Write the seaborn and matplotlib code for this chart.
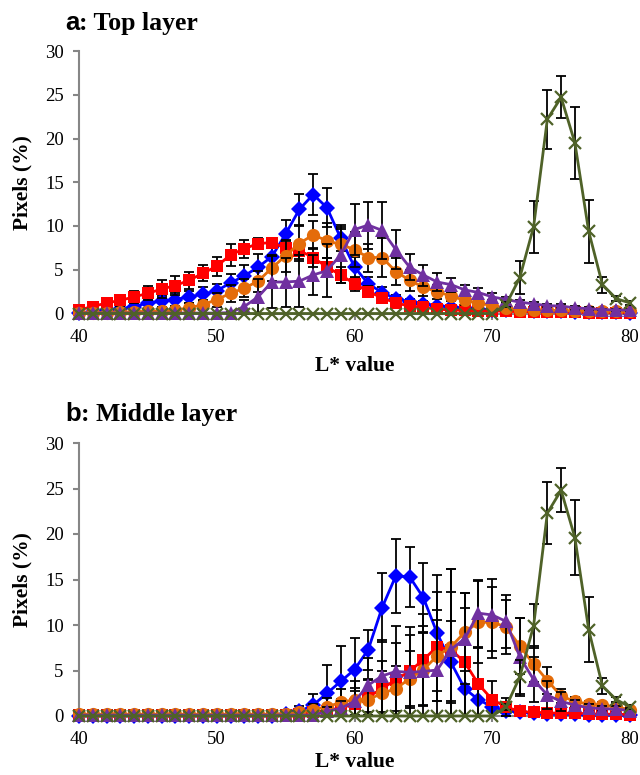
import numpy as np
import pandas as pd
import matplotlib
matplotlib.use("Agg")
import matplotlib.pyplot as plt
import seaborn as sns

# ---------------- data ----------------
L_values = list(range(40, 81))
x_ticks = [40, 50, 60, 70, 80]
y_ticks = [0, 5, 10, 15, 20, 25, 30]
panel_titles = [("a", ": Top layer"), ("b", ": Middle layer")]
x_label = "L* value"
y_label = "Pixels (%)"

# ---- top layer ----
top_blue = [0.1, 0.2, 0.4, 0.5, 0.8, 1.2, 1.4, 1.6, 1.9, 2.2, 2.6, 3.5, 4.3, 5.3, 6.5, 9.1, 11.9, 13.6, 12.1, 8.6,
            5.3, 3.4, 2.4, 1.7, 1.35, 1.1, 0.9, 0.75, 0.6, 0.5, 0.45, 0.4, 0.35, 0.3, 0.3, 0.25, 0.2, 0.2, 0.15, 0.15, 0.1]
top_blue_err = [0.1, 0.2, 0.3, 0.4, 0.5, 0.6, 0.6, 0.7, 0.7, 0.8, 0.8, 1.0, 1.2, 1.5, 1.5, 1.6, 1.8, 2.3, 2.2, 1.5,
                1.2, 0.8, 0.6, 0.4, 0.3, 0.3, 0.2, 0.2, 0.2, 0.15, 0.1, 0.1, 0.1, 0.1, 0.1, 0.1, 0.1, 0.1, 0.1, 0.1, 0.1]
top_red = [0.4, 0.8, 1.2, 1.5, 1.9, 2.3, 2.8, 3.2, 3.8, 4.6, 5.4, 6.7, 7.4, 8.0, 8.1, 7.5, 7.2, 6.4, 5.3, 4.4,
           3.4, 2.5, 1.8, 1.2, 0.85, 0.7, 0.5, 0.4, 0.35, 0.3, 0.3, 0.25, 0.2, 0.2, 0.2, 0.15, 0.15, 0.1, 0.1, 0.1, 0.1]
top_red_err = [0.3, 0.4, 0.5, 0.6, 0.7, 0.8, 1.0, 1.1, 1.0, 0.9, 1.1, 1.3, 1.0, 0.6, 0.5, 0.8, 1.0, 1.1, 1.0, 0.9,
               0.8, 0.6, 0.5, 0.4, 0.3, 0.3, 0.2, 0.2, 0.15, 0.1, 0.1, 0.1, 0.1, 0.1, 0.1, 0.1, 0.1, 0.1, 0.1, 0.1, 0.1]
top_orange = [0.1, 0.1, 0.1, 0.15, 0.2, 0.25, 0.3, 0.4, 0.65, 1.0, 1.6, 2.3, 2.9, 3.7, 5.2, 6.6, 8.0, 9.0, 8.3, 7.9,
              7.3, 6.4, 6.4, 4.8, 3.8, 3.0, 2.5, 2.0, 1.5, 1.2, 0.9, 0.6, 0.45, 0.4, 0.35, 0.35, 0.3, 0.3, 0.3, 0.25, 0.25]
top_orange_err = [0.1, 0.1, 0.1, 0.1, 0.15, 0.2, 0.2, 0.3, 0.5, 0.6, 0.8, 1.0, 1.0, 1.2, 1.5, 1.8, 2.0, 1.6, 2.0, 1.8,
                  2.0, 1.6, 2.2, 1.5, 1.2, 1.0, 0.8, 0.6, 0.5, 0.4, 0.3, 0.3, 0.2, 0.2, 0.2, 0.2, 0.2, 0.2, 0.2, 0.2, 0.2]
top_purple = [0.05, 0.05, 0.05, 0.05, 0.05, 0.05, 0.05, 0.05, 0.05, 0.05, 0.05, 0.1, 0.8, 1.9, 3.6, 3.6, 3.7, 4.4, 4.9, 6.7,
              9.6, 10.1, 9.5, 7.3, 5.3, 4.4, 3.6, 3.3, 2.7, 2.4, 1.9, 1.6, 1.3, 1.1, 0.9, 0.85, 0.65, 0.55, 0.45, 0.4, 0.4]
top_purple_err = [0.0, 0.0, 0.0, 0.0, 0.0, 0.0, 0.0, 0.0, 0.0, 0.0, 0.0, 0.1, 0.8, 2.0, 3.0, 2.8, 3.0, 2.3, 3.0, 3.2,
                  2.9, 2.7, 3.3, 2.2, 1.5, 1.2, 1.0, 0.8, 0.6, 0.5, 0.4, 0.3, 0.3, 0.2, 0.2, 0.2, 0.2, 0.2, 0.1, 0.1, 0.1]
top_green = [0.0] * 31 + [1.0, 4.1, 9.9, 22.2, 24.7, 19.5, 9.4, 3.3, 1.7, 1.2]
top_green_err = [0.0] * 31 + [0.3, 1.9, 3.0, 3.4, 2.4, 4.1, 3.6, 0.9, 0.3, 0.2]

# ---- middle layer ----
mid_blue = [0.05] * 15 + [0.2, 0.5, 1.2, 2.5, 3.8, 5.1, 7.3, 11.9, 15.4, 15.3, 13.0, 9.1, 5.9, 3.0, 1.8,
                          1.0, 0.6, 0.4, 0.3, 0.25, 0.2, 0.2, 0.15, 0.15, 0.1, 0.1]
mid_blue_err = [0.0] * 15 + [0.2, 0.6, 1.2, 3.1, 3.9, 3.5, 2.2, 3.8, 4.1, 3.3, 3.8, 6.4, 4.5, 3.0, 2.0,
                             1.2, 0.6, 0.3, 0.2, 0.2, 0.1, 0.1, 0.1, 0.1, 0.1, 0.1]
mid_red = [0.1] * 16 + [0.2, 0.4, 0.6, 0.9, 1.3, 2.1, 3.0, 4.0, 4.9, 6.2, 7.6, 7.3, 5.9, 3.5,
                        1.8, 1.0, 0.5, 0.4, 0.35, 0.3, 0.3, 0.25, 0.2, 0.2, 0.15]
mid_red_err = [0.0] * 16 + [0.2, 0.4, 0.6, 1.0, 1.5, 2.0, 3.0, 4.0, 4.0, 5.0, 6.0, 8.8, 6.0, 4.0,
                            2.0, 1.0, 0.5, 0.3, 0.2, 0.2, 0.2, 0.2, 0.1, 0.1, 0.1]
mid_orange = [0.2] * 16 + [0.4, 0.7, 1.0, 1.5, 1.8, 1.8, 2.5, 3.0, 4.1, 5.1, 6.6, 7.6, 9.2, 10.3,
                           10.3, 9.8, 7.7, 5.7, 3.9, 2.2, 1.6, 1.3, 1.2, 1.0, 0.7]
mid_orange_err = [0.0] * 16 + [0.3, 0.6, 1.0, 1.5, 2.0, 2.2, 2.5, 2.5, 3.0, 4.0, 5.0, 6.0, 4.3, 4.5,
                               3.9, 3.0, 3.1, 2.0, 1.5, 0.8, 0.5, 0.4, 0.3, 0.3, 0.3]
mid_purple = [0.1] * 18 + [0.5, 0.85, 1.6, 3.4, 4.4, 4.9, 4.8, 4.9, 5.05, 7.3, 8.5, 11.3,
                           11.1, 10.4, 6.5, 4.0, 2.3, 1.6, 1.2, 0.9, 0.8, 0.75, 0.6]
mid_purple_err = [0.0] * 18 + [0.5, 0.8, 1.5, 3.0, 4.0, 5.0, 5.0, 5.0, 5.5, 8.8, 5.0, 3.7,
                               4.0, 2.9, 4.3, 2.5, 1.5, 1.0, 0.6, 0.4, 0.3, 0.3, 0.3]
mid_green = [0.0] * 31 + [1.0, 4.3, 9.9, 22.3, 24.8, 19.6, 9.5, 3.3, 1.8, 1.0]
mid_green_err = [0.0] * 31 + [0.3, 1.9, 2.4, 3.4, 2.4, 4.1, 3.6, 0.9, 0.3, 0.2]

panels = [
    [(top_blue, top_blue_err), (top_red, top_red_err), (top_orange, top_orange_err),
     (top_purple, top_purple_err), (top_green, top_green_err)],
    [(mid_blue, mid_blue_err), (mid_red, mid_red_err), (mid_orange, mid_orange_err),
     (mid_purple, mid_purple_err), (mid_green, mid_green_err)],
]

# ---------------- styles ----------------
styles = [
    dict(color="#0000FF", marker="D", markersize=8.3, mew=0),
    dict(color="#FF0000", marker="s", markersize=8.0, mew=0),
    dict(color="#E46C0A", marker="o", markersize=9.5, mew=0),
    dict(color="#7030A0", marker="^", markersize=9.5, mew=0),
    dict(color="#4F6228", marker="x", markersize=8.0, mew=1.6),
]

sns.set_style("ticks")
plt.rcParams["font.family"] = ["Liberation Serif", "DejaVu Serif"]
plt.rcParams["text.color"] = "black"
plt.rcParams["axes.labelcolor"] = "black"
plt.rcParams["xtick.labelcolor"] = "black"
plt.rcParams["ytick.labelcolor"] = "black"

fig = plt.figure(figsize=(6.4, 7.75), dpi=100)
W, H = 640, 775
axes_px = [(79, 630, 51, 313.5), (79, 630, 443, 716)]
title_base_px = [30, 421]
xlabel_px = [366, 762]
spine_col = "#868686"

for pi, (ax_px, series) in enumerate(zip(axes_px, panels)):
    x0, x1, ytop, ybot = ax_px
    ax = fig.add_axes([x0 / W, 1 - ybot / H, (x1 - x0) / W, (ybot - ytop) / H])
    for si, ((vals, errs), st) in enumerate(zip(series, styles)):
        z = 3 + si
        df = pd.DataFrame({"L": L_values, "v": vals})
        sns.lineplot(data=df, x="L", y="v", ax=ax, color=st["color"], marker=st["marker"],
                     markersize=st["markersize"], markeredgewidth=st["mew"],
                     markeredgecolor=st["color"], linewidth=2.0, zorder=z + 0.5,
                     clip_on=False, legend=False)
        nz = [i for i, e in enumerate(errs) if e > 0]
        ax.errorbar([L_values[i] for i in nz], [vals[i] for i in nz],
                    yerr=[errs[i] for i in nz], fmt="none", ecolor="black",
                    elinewidth=1.3, capsize=3.8, capthick=1.3, zorder=z)
    ax.set_xlim(40, 80)
    ax.set_ylim(0, 30)
    ax.set_xticks(x_ticks)
    ax.set_yticks(y_ticks)
    for s in ["top", "right"]:
        ax.spines[s].set_visible(False)
    for s in ["left", "bottom"]:
        ax.spines[s].set_color(spine_col)
        ax.spines[s].set_linewidth(1.5)
        ax.spines[s].set_zorder(1)
    ax.tick_params(axis="both", direction="out", length=4, width=1.5, color=spine_col,
                   labelsize=13.5, labelcolor="black")
    ax.tick_params(axis="y", pad=7)
    ax.tick_params(axis="x", pad=7)
    ax.set_xlabel("")
    ax.set_ylabel("")
    ax.grid(False)
    # axis labels
    fig.text((x0 + x1) / 2 / W, 1 - xlabel_px[pi] / H, x_label, ha="center", va="center",
             fontsize=15.5, fontweight="bold", color="black")
    fig.text(22 / W, 1 - (ytop + ybot) / 2 / H, y_label, ha="center", va="center",
             rotation=90, fontsize=15.5, fontweight="bold", color="black")
    # panel title
    t1 = fig.text(65 / W, 1 - title_base_px[pi] / H, panel_titles[pi][0], va="baseline", ha="left",
                  fontsize=18.5, fontweight="bold", color="black",
                  family=["Liberation Sans", "DejaVu Sans"])
    fig.canvas.draw()
    bb = t1.get_window_extent()
    fig.text(bb.x1 / W, 1 - title_base_px[pi] / H, panel_titles[pi][1], va="baseline", ha="left",
             fontsize=18.5, fontweight="bold", color="black",
             family=["Liberation Serif", "DejaVu Serif"])

fig.savefig("out.png", dpi=100)
